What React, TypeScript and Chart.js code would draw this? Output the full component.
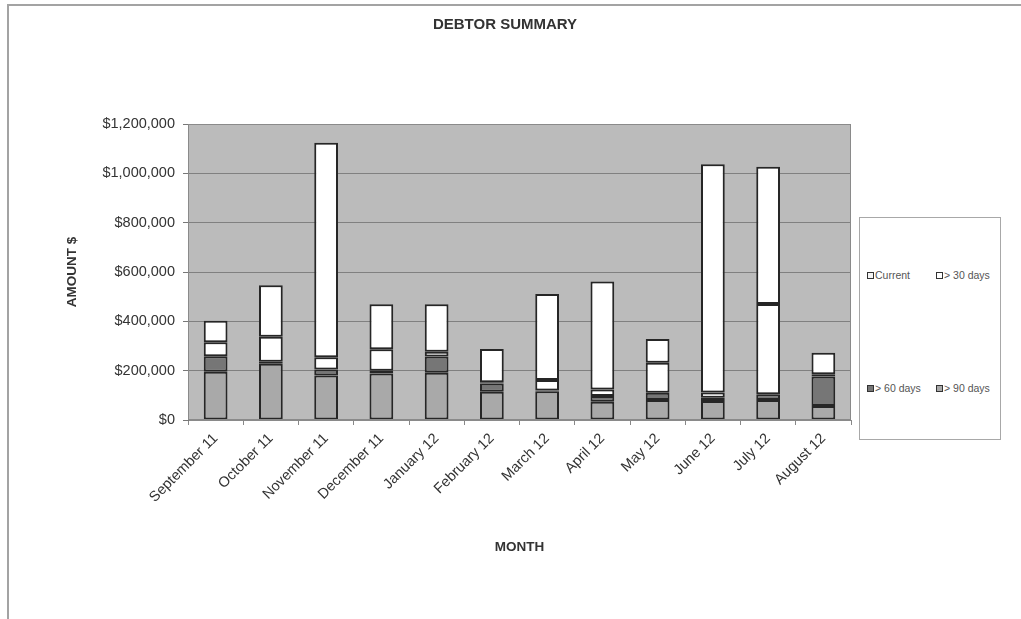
import React, { useEffect, useRef } from "react";
import { Chart, registerables } from "chart.js";

Chart.register(...registerables);

const chartTitle = "DEBTOR SUMMARY";

const months = [
  "September 11",
  "October 11",
  "November 11",
  "December 11",
  "January 12",
  "February 12",
  "March 12",
  "April 12",
  "May 12",
  "June 12",
  "July 12",
  "August 12",
];

const over90Days = [196000, 228000, 180000, 189000, 192000, 115000, 117000, 74000, 81000, 77000, 81000, 57000];
const over60Days = [62000, 8000, 25000, 11000, 65000, 33000, 3000, 23000, 29000, 13000, 23000, 119000];
const over30Days = [57000, 102000, 49000, 87000, 20000, 5000, 42000, 27000, 122000, 21000, 366000, 9000];
const currentAmt = [87000, 208000, 870000, 182000, 192000, 135000, 349000, 437000, 96000, 926000, 557000, 88000];

const yTicks = [0, 200000, 400000, 600000, 800000, 1000000, 1200000];

const legendItems = [
  { label: "Current", color: "#f4f4f4" },
  { label: "> 30 days", color: "#ffffff" },
  { label: "> 60 days", color: "#767676" },
  { label: "> 90 days", color: "#a9a9a9" },
];

const FONT = '"Liberation Sans", Arial, Helvetica, sans-serif';

const plotBg = {
  id: "plotBg",
  beforeDraw(chart: any) {
    const { ctx, chartArea } = chart;
    if (!chartArea) return;
    ctx.save();
    ctx.fillStyle = "#bbbbbb";
    ctx.fillRect(chartArea.left, chartArea.top, chartArea.right - chartArea.left, chartArea.bottom - chartArea.top);
    ctx.restore();
  },
  afterDatasetsDraw(chart: any) {
    const { ctx, chartArea } = chart;
    ctx.save();
    ctx.strokeStyle = "#8a8a8a";
    ctx.lineWidth = 1;
    ctx.strokeRect(chartArea.left + 0.5, chartArea.top + 0.5, chartArea.right - chartArea.left - 1, chartArea.bottom - chartArea.top - 1);
    ctx.restore();
  },
  afterDraw(chart: any) {
    const { ctx } = chart;
    ctx.save();
    ctx.fillStyle = "#333333";
    ctx.font = "bold 15px " + FONT;
    ctx.textAlign = "center";
    ctx.textBaseline = "middle";
    ctx.fillText(chartTitle, 505, 25);
    ctx.restore();
  },
};

export default function App() {
  const ref = useRef<HTMLCanvasElement | null>(null);

  useEffect(() => {
    if (!ref.current) return;
    const common = {
      borderColor: "#262626",
      borderWidth: 2,
      borderSkipped: false as const,
      barPercentage: 0.43,
      categoryPercentage: 1,
    };
    const chart = new Chart(ref.current, {
      type: "bar",
      data: {
        labels: months,
        datasets: [
          { label: "> 90 days", data: over90Days, backgroundColor: "#a9a9a9", ...common },
          { label: "> 60 days", data: over60Days, backgroundColor: "#767676", ...common },
          { label: "> 30 days", data: over30Days, backgroundColor: "#ffffff", ...common },
          { label: "Current", data: currentAmt, backgroundColor: "#ffffff", ...common },
        ],
      },
      options: {
        animation: false,
        responsive: false,
        maintainAspectRatio: false,
        layout: { padding: { left: 8, right: 170, top: 124, bottom: 0 } },
        plugins: {
          legend: { display: false },
          tooltip: { enabled: false },
          title: { display: false },
        },
        scales: {
          x: {
            stacked: true,
            afterFit: (s: any) => {
              s.height = 199;
            },
            grid: {
              offset: true,
              drawOnChartArea: false,
              drawTicks: true,
              tickLength: 5,
              color: "#888888",
            },
            border: { display: true, color: "#8a8a8a" },
            ticks: {
              minRotation: 45,
              maxRotation: 45,
              autoSkip: false,
              padding: 5,
              color: "#333333",
              font: { family: FONT, size: 14.5 },
            },
            title: {
              display: true,
              text: "MONTH",
              color: "#333333",
              font: { family: FONT, size: 13.5, weight: "bold" },
              padding: { top: 0, bottom: 63.9 },
            },
          },
          y: {
            stacked: true,
            min: yTicks[0],
            max: yTicks[yTicks.length - 1],
            afterFit: (s: any) => {
              s.width = 180;
            },
            afterBuildTicks: (s: any) => {
              s.ticks = yTicks.map((v) => ({ value: v }));
            },
            grid: {
              color: "#808080",
              lineWidth: 1,
              drawTicks: true,
              tickLength: 5,
              tickColor: "#777777",
            },
            border: { display: true, color: "#777777" },
            ticks: {
              padding: 8,
              color: "#333333",
              font: { family: FONT, size: 14.5 },
              callback: (v: any) => "$" + Number(v).toLocaleString("en-US"),
            },
            title: {
              display: true,
              text: "AMOUNT $",
              color: "#333333",
              font: { family: FONT, size: 13.5, weight: "bold" },
              padding: { top: 55.9, bottom: 0 },
            },
          },
        },
      },
      plugins: [plotBg],
    });
    return () => chart.destroy();
  }, []);

  const legendPos = [
    { left: 7, top: 51 },
    { left: 76, top: 51 },
    { left: 7, top: 164 },
    { left: 76, top: 164 },
  ];

  return (
    <div
      style={{
        position: "absolute",
        left: 0,
        top: 0,
        width: 1021,
        height: 619,
        overflow: "hidden",
        background: "#ffffff",
        fontFamily: FONT,
      }}
    >
      <div
        style={{
          position: "absolute",
          left: 7,
          top: 4,
          width: 1030,
          height: 640,
          borderTop: "2px solid #a3a3a3",
          borderLeft: "2px solid #a3a3a3",
        }}
      />
      <canvas ref={ref} width={1021} height={619} style={{ position: "absolute", left: 0, top: 0, width: 1021, height: 619 }} />
      <div
        style={{
          position: "absolute",
          left: 859,
          top: 217,
          width: 140,
          height: 221,
          background: "#ffffff",
          border: "1px solid #a8a8a8",
        }}
      >
        {legendItems.map((it, i) => (
          <div
            key={it.label}
            style={{
              position: "absolute",
              left: legendPos[i].left,
              top: legendPos[i].top,
              display: "flex",
              alignItems: "center",
              whiteSpace: "nowrap",
              fontSize: 10.5,
              color: "#555555",
              lineHeight: "12px",
            }}
          >
            <span
              style={{
                display: "inline-block",
                width: 5,
                height: 5,
                border: "1px solid #333333",
                background: it.color,
                marginRight: 1,
              }}
            />
            {it.label}
          </div>
        ))}
      </div>
    </div>
  );
}
